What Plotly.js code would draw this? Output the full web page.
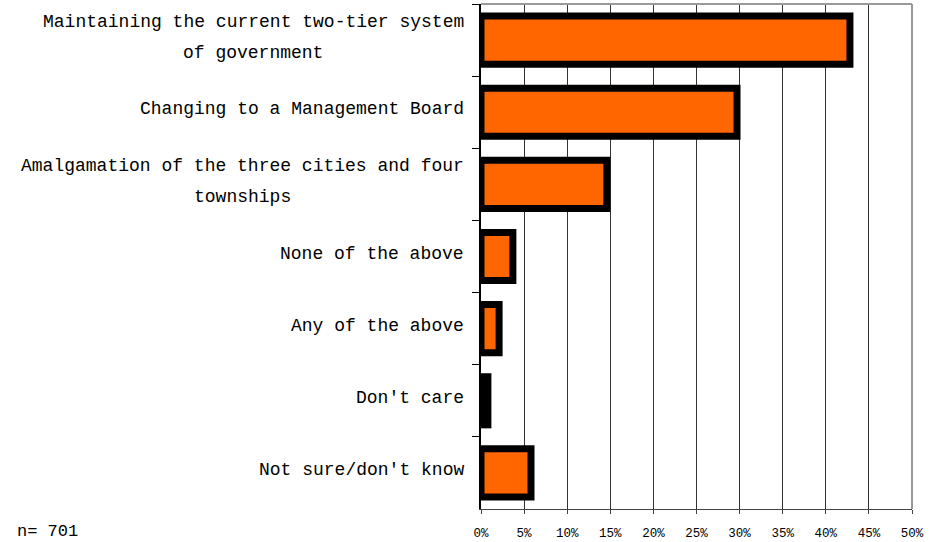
<!DOCTYPE html>
<html>
<head>
<meta charset="utf-8">
<script src="https://cdn.plot.ly/plotly-3.0.1.min.js"></script>
<style>html,body{margin:0;padding:0;background:#fff}#chart{width:930px;height:542px}</style>
</head>
<body>
<div id="chart"></div>
<script>
const categories = [
  "Maintaining the current two-tier system<br>of government",
  "Changing to a Management Board",
  "Amalgamation of the three cities and four<br>townships",
  "None of the above",
  "Any of the above",
  "Don't care",
  "Not sure/don't know"
];
const percentValues = [42.8, 29.7, 14.6, 3.7, 2.1, 0.8, 5.8];
const xTickValues = [0, 5, 10, 15, 20, 25, 30, 35, 40, 45, 50];
const xTickLabels = ["0%", "5%", "10%", "15%", "20%", "25%", "30%", "35%", "40%", "45%", "50%"];
const sampleNote = "n= 701";

const labelSize = 18;
const charW = labelSize * 0.6; // monospace advance
const labelFont = {family: "Liberation Mono, Courier New, monospace", size: labelSize, color: "#000"};
const annotations = [];
const lineGap = 31;
const gapFromAxis = 17;
categories.forEach(function (cat) {
  const lines = cat.split("<br>");
  const n = lines.length;
  const maxLen = Math.max.apply(null, lines.map(function (l) { return l.length; }));
  const blockW = maxLen * charW;
  lines.forEach(function (ln, i) {
    annotations.push({
      x: 0, xref: "x", y: cat, yref: "y",
      text: ln, showarrow: false,
      xanchor: "center", yanchor: "middle",
      xshift: -gapFromAxis - blockW / 2,
      yshift: 3 + ((n - 1) / 2 - i) * lineGap,
      font: labelFont
    });
  });
});
annotations.push({
  x: -1.082, xref: "paper", y: -0.044, yref: "paper",
  text: sampleNote, showarrow: false,
  xanchor: "left", yanchor: "middle",
  font: {family: "Liberation Mono, Courier New, monospace", size: 17, color: "#000"}
});

const trace = {
  type: "bar",
  orientation: "h",
  y: categories,
  x: percentValues,
  width: 0.667,
  marker: {color: "#FF6600", line: {color: "#000", width: 7}},
  hoverinfo: "x+y"
};

const layout = {
  width: 930, height: 542,
  margin: {l: 481, r: 18, t: 4, b: 33},
  paper_bgcolor: "#fff", plot_bgcolor: "#fff",
  showlegend: false,
  xaxis: {
    range: [0, 50],
    tickvals: xTickValues, ticktext: xTickLabels,
    showgrid: true, gridcolor: "#333", gridwidth: 1,
    zeroline: false,
    showline: true, linecolor: "#444", linewidth: 1,
    ticks: "outside", ticklen: 4, tickcolor: "#444",
    ticklabelstandoff: 8,
    tickfont: {family: "Liberation Mono, Courier New, monospace", size: 12.5, color: "#000"},
    fixedrange: true
  },
  yaxis: {
    type: "category",
    autorange: "reversed",
    showticklabels: false,
    tickson: "boundaries",
    ticks: "outside", ticklen: 7, tickcolor: "#000",
    showgrid: false, zeroline: false,
    showline: true, linecolor: "#000", linewidth: 2,
    fixedrange: true
  },
  shapes: [
    {type: "line", xref: "paper", yref: "paper", x0: 0, x1: 1, y0: 1, y1: 1, line: {color: "#999", width: 2}},
    {type: "line", xref: "paper", yref: "paper", x0: 1, x1: 1, y0: 0, y1: 1, line: {color: "#999", width: 2}}
  ],
  annotations: annotations
};

Plotly.newPlot("chart", [trace], layout, {displayModeBar: false, staticPlot: true});
</script>
</body>
</html>
